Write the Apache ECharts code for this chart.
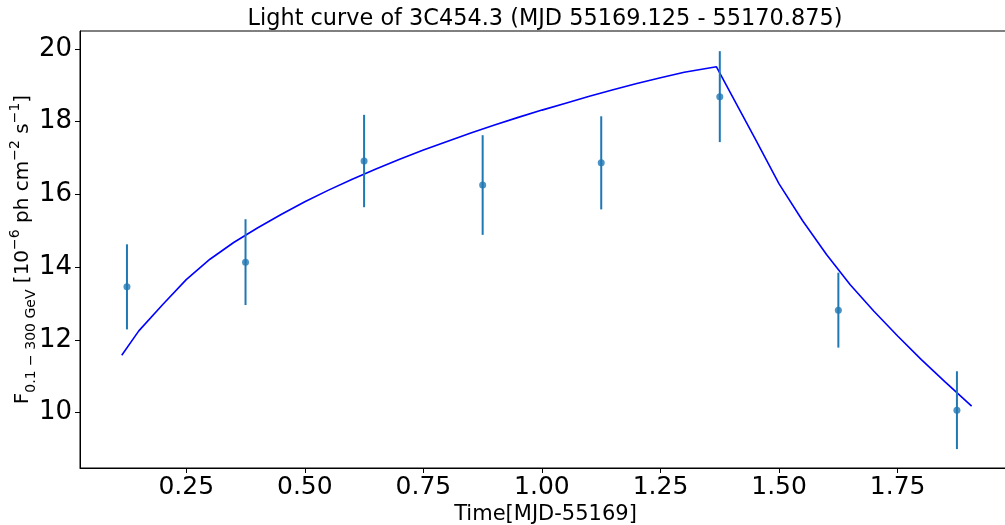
<!DOCTYPE html>
<html>
<head>
<meta charset="utf-8">
<script src="https://cdn.jsdelivr.net/npm/echarts@6/dist/echarts.min.js"></script>
<style>
  html, body { margin: 0; padding: 0; background: #fff; }
  #chart { width: 1005px; height: 525px; }
</style>
</head>
<body>
<div id="chart"></div>
<script>
// Binned Fermi-LAT fluxes (time offset from MJD 55169, flux, 1-sigma error)
const binTimes  = [0.125, 0.375, 0.625, 0.875, 1.125, 1.375, 1.625, 1.875];
const binFlux   = [13.46, 14.14, 16.92, 16.26, 16.87, 18.69, 12.82, 10.07];
const binErr    = [1.17, 1.18, 1.27, 1.37, 1.28, 1.25, 1.03, 1.07];

// Fitted flare profile: slow rise, fast decay
const modelTimes = [0.114, 0.15, 0.20, 0.25, 0.30, 0.35, 0.40, 0.45, 0.50, 0.55, 0.60,
                    0.65, 0.70, 0.75, 0.80, 0.85, 0.90, 0.95, 1.00, 1.05, 1.10, 1.15,
                    1.20, 1.25, 1.30, 1.368, 1.40, 1.45, 1.50, 1.55, 1.60, 1.65, 1.70,
                    1.75, 1.80, 1.85, 1.906];
const modelFlux  = [11.58, 12.25, 12.97, 13.66, 14.22, 14.68, 15.08, 15.45, 15.80, 16.12, 16.42,
                    16.70, 16.97, 17.22, 17.46, 17.69, 17.91, 18.12, 18.32, 18.51, 18.70, 18.88,
                    19.05, 19.21, 19.36, 19.51, 18.73, 17.52, 16.29, 15.27, 14.35, 13.52, 12.79,
                    12.11, 11.46, 10.85, 10.18];

const xTicks = [0.25, 0.50, 0.75, 1.00, 1.25, 1.50, 1.75];
const yTicks = [10, 12, 14, 16, 18, 20];

const titleText = 'Light curve of 3C454.3 (MJD 55169.125 - 55170.875)';
const xName = 'Time[MJD-55169]';

const modelData = modelTimes.map((t, i) => [t, modelFlux[i]]);
const pointData = binTimes.map((t, i) => [t, binFlux[i]]);
const barData = binTimes.map((t, i) => [t, binFlux[i] - binErr[i], binFlux[i] + binErr[i]]);

const FONT = 'DejaVu Sans';
const chart = echarts.init(document.getElementById('chart'), null, { renderer: 'canvas' });

chart.setOption({
  backgroundColor: '#ffffff',
  animation: false,
  graphic: [{
    type: 'text',
    x: 545, y: 8,
    style: {
      text: titleText,
      fontFamily: FONT, fontSize: 22.4, fill: '#000',
      textAlign: 'center', textVerticalAlign: 'top'
    }
  }],
  grid: {
    left: 80, top: 31, width: 931, height: 437,
    outerBoundsMode: 'none',
    containLabel: false,
    show: true, borderColor: '#000', borderWidth: 1, backgroundColor: 'transparent'
  },
  xAxis: {
    type: 'value',
    min: 0.026, max: 1.989,
    name: xName,
    nameLocation: 'middle',
    nameGap: 36,
    nameMoveOverlap: false,
    nameTextStyle: { fontFamily: FONT, fontSize: 21, color: '#000' },
    axisLine: { show: true, onZero: false, lineStyle: { color: '#000', width: 1 } },
    axisTick: { show: true, length: 5, customValues: xTicks, lineStyle: { color: '#000' } },
    axisLabel: {
      show: true, margin: 7, customValues: xTicks,
      fontFamily: FONT, fontSize: 25, color: '#000',
      formatter: v => v.toFixed(2)
    },
    splitLine: { show: false }
  },
  yAxis: {
    type: 'value',
    min: 8.48, max: 20.495,
    name: '{m|F}{sub|0.1 \u2212 300 GeV}{m| [10}{sup|\u22126}{m| ph cm}{sup|\u22122}{m| s}{sup|\u22121}{m|]}',
    nameLocation: 'middle',
    nameRotate: 90,
    nameGap: 42,
    nameMoveOverlap: false,
    nameTextStyle: {
      color: '#000',
      rich: {
        m:   { fontFamily: FONT, fontSize: 20, lineHeight: 30, color: '#000' },
        sub: { fontFamily: FONT, fontSize: 14, lineHeight: 15, verticalAlign: 'bottom', color: '#000' },
        sup: { fontFamily: FONT, fontSize: 14, lineHeight: 15, verticalAlign: 'top', color: '#000' }
      }
    },
    axisLine: { show: true, onZero: false, lineStyle: { color: '#000', width: 1 } },
    axisTick: { show: true, length: 5, customValues: yTicks, lineStyle: { color: '#000' } },
    axisLabel: {
      show: true, margin: 8, customValues: yTicks,
      fontFamily: FONT, fontSize: 26, color: '#000'
    },
    splitLine: { show: false }
  },
  series: [
    {
      type: 'line',
      data: modelData,
      showSymbol: false,
      symbol: 'none',
      lineStyle: { color: '#0000ff', width: 1.6 },
      z: 2
    },
    {
      type: 'custom',
      data: barData,
      renderItem: (params, api) => {
        const lo = api.coord([api.value(0), api.value(1)]);
        const hi = api.coord([api.value(0), api.value(2)]);
        return {
          type: 'line',
          shape: { x1: lo[0], y1: lo[1], x2: hi[0], y2: hi[1] },
          style: { stroke: '#1f77b4', lineWidth: 2 }
        };
      },
      z: 3
    },
    {
      type: 'scatter',
      data: pointData,
      symbol: 'circle',
      symbolSize: 7,
      itemStyle: { color: '#1f77b4' },
      z: 4
    }
  ]
});
</script>
</body>
</html>
